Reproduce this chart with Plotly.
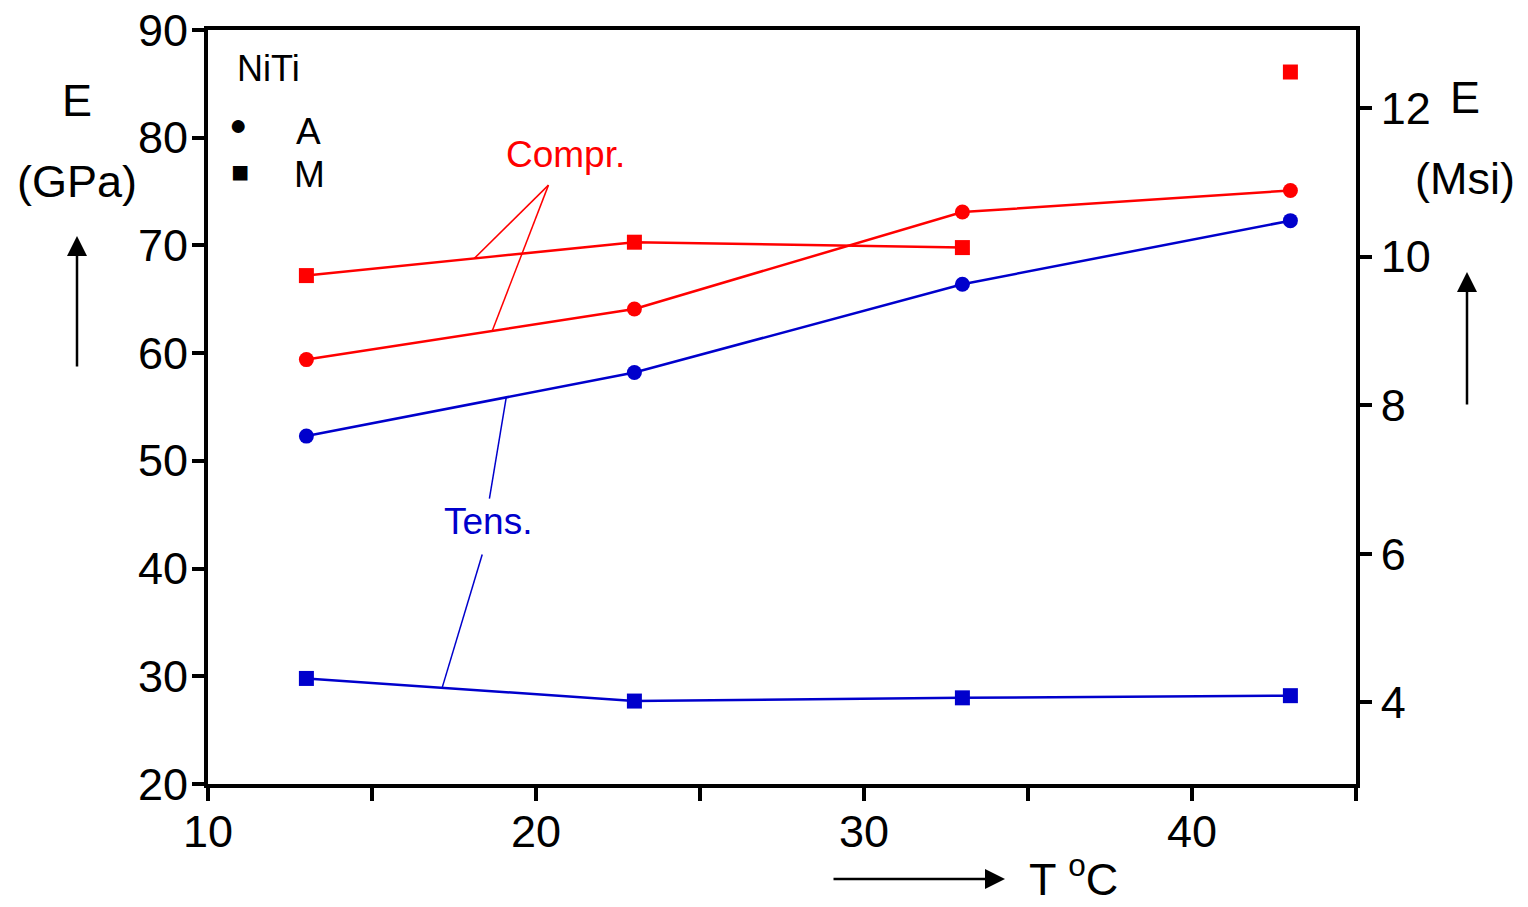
import plotly.graph_objects as go

# Temperature (°C)
temp = [13, 23, 33, 43]

# Young's modulus E (GPa) for NiTi
compr_A = [59.4, 64.1, 73.1, 75.1]   # compression, austenite
compr_M = [67.2, 70.3, 69.8, 86.1]   # compression, martensite (last point stands alone)
tens_A = [52.3, 58.2, 66.4, 72.3]    # tension, austenite
tens_M = [29.8, 27.7, 28.0, 28.2]    # tension, martensite

GPA_PER_MSI = 6.895
y_range = [20, 90]
x_ticks = [10, 15, 20, 25, 30, 35, 40, 45]
x_labels = ["10", "", "20", "", "30", "", "40", ""]
y_ticks = [20, 30, 40, 50, 60, 70, 80, 90]
msi_ticks = [4, 6, 8, 10, 12]

RED = "#ff0000"
BLUE = "#0000cc"
FONT = "Liberation Sans, Arial, sans-serif"

fig = go.Figure()

line_w = 2.5
circ = dict(symbol="circle", size=15)
sq = dict(symbol="square", size=15)

fig.add_trace(go.Scatter(x=temp, y=compr_A, mode="lines+markers",
                         line=dict(color=RED, width=line_w), marker=dict(color=RED, **circ)))
fig.add_trace(go.Scatter(x=temp[:3], y=compr_M[:3], mode="lines+markers",
                         line=dict(color=RED, width=line_w), marker=dict(color=RED, **sq)))
fig.add_trace(go.Scatter(x=temp[3:], y=compr_M[3:], mode="markers",
                         marker=dict(color=RED, **sq)))
fig.add_trace(go.Scatter(x=temp, y=tens_A, mode="lines+markers",
                         line=dict(color=BLUE, width=line_w), marker=dict(color=BLUE, **circ)))
fig.add_trace(go.Scatter(x=temp, y=tens_M, mode="lines+markers",
                         line=dict(color=BLUE, width=line_w), marker=dict(color=BLUE, **sq)))

# invisible trace to activate the secondary (Msi) axis
fig.add_trace(go.Scatter(x=[temp[0]], y=[compr_A[0] / GPA_PER_MSI], yaxis="y2",
                         mode="markers", marker=dict(opacity=0), hoverinfo="skip"))

# leader lines from the series labels to the curves
leaders = [
    ((20.38, 75.6), (18.12, 68.8), RED),
    ((20.38, 75.6), (18.67, 62.1), RED),
    ((19.09, 55.85), (18.58, 46.5), BLUE),
    ((18.36, 41.3), (17.14, 28.95), BLUE),
]
for (x0, y0), (x1, y1), c in leaders:
    fig.add_shape(type="line", xref="x", yref="y", x0=x0, y0=y0, x1=x1, y1=y1,
                  line=dict(color=c, width=1.5))

axis_font = dict(family=FONT, size=45, color="black")

fig.update_layout(
    width=1528, height=907,
    margin=dict(l=208, r=172, t=30, b=123, autoexpand=False),
    paper_bgcolor="white", plot_bgcolor="white",
    showlegend=False,
    font=dict(family=FONT, color="black"),
    xaxis=dict(range=[10, 45], tickmode="array", tickvals=x_ticks, showticklabels=False,
               ticks="outside", ticklen=13, tickwidth=3.5, tickcolor="black",
               showline=True, linewidth=3.5, linecolor="black", mirror=True,
               showgrid=False, zeroline=False, automargin=False),
    yaxis=dict(range=y_range, tickmode="array", tickvals=y_ticks, showticklabels=False,
               ticks="outside", ticklen=12, tickwidth=3.5, tickcolor="black",
               showline=True, linewidth=3.5, linecolor="black",
               showgrid=False, zeroline=False, automargin=False),
    yaxis2=dict(range=[y_range[0] / GPA_PER_MSI, y_range[1] / GPA_PER_MSI], overlaying="y",
                side="right", tickmode="array", tickvals=msi_ticks,
                ticks="outside", ticklen=12, tickwidth=3.5, tickcolor="black",
                showline=True, linewidth=3.5, linecolor="black",
                showgrid=False, zeroline=False, tickfont=axis_font, automargin=False),
)

# tick labels of the temperature and GPa axes, placed close to their ticks
for v, lab in zip(x_ticks, x_labels):
    if lab:
        fig.add_annotation(x=v, y=784 - 831, xref="x", yref="y domain", yshift=0,
                           text=lab, showarrow=False, xanchor="center", yanchor="middle",
                           font=axis_font)
for v in y_ticks:
    fig.add_annotation(x=0, y=v, xref="paper", yref="y", xshift=-18,
                       text=str(v), showarrow=False, xanchor="right", yanchor="middle",
                       font=axis_font)

def px_to_paper(px, py):
    return (px - 208) / 1148, (784 - py) / 754

# fix x tick label vertical position in paper units
for ann in fig.layout.annotations:
    if ann.yref == "y domain":
        ann.yref = "paper"
        ann.y = px_to_paper(0, 831)[1]

def text(px, py, s, size, color="black", xanchor="center"):
    x, y = px_to_paper(px, py)
    fig.add_annotation(x=x, y=y, xref="paper", yref="paper", text=s, showarrow=False,
                       xanchor=xanchor, yanchor="middle",
                       font=dict(family=FONT, size=size, color=color))

def arrow(hx, hy, tx, ty):
    x, y = px_to_paper(hx, hy)
    fig.add_annotation(x=x, y=y, xref="paper", yref="paper", text="",
                       showarrow=True, ax=tx - hx, ay=ty - hy,
                       arrowhead=2, arrowsize=1.6, arrowwidth=2.5, arrowcolor="black")

# series labels
text(565, 154, "Compr.", 37, RED)
text(488, 521, "Tens.", 37, BLUE)

# legend block
text(268, 68, "NiTi", 36)
text(238, 124, "●", 30)
text(240, 172, "■", 30)
text(308, 131, "A", 37)
text(309, 174, "M", 37)

# axis titles with direction arrows
text(77, 101, "E", 45)
text(77, 181, "(GPa)", 45)
arrow(77, 236, 77, 368)

text(1465, 97, "E", 45)
text(1465, 178, "(Msi)", 45)
arrow(1467, 272, 1467, 406)

arrow(1005, 879, 832, 879)
text(1073, 876, "T <sup>o</sup>C", 45)

fig.write_html("out.html")
